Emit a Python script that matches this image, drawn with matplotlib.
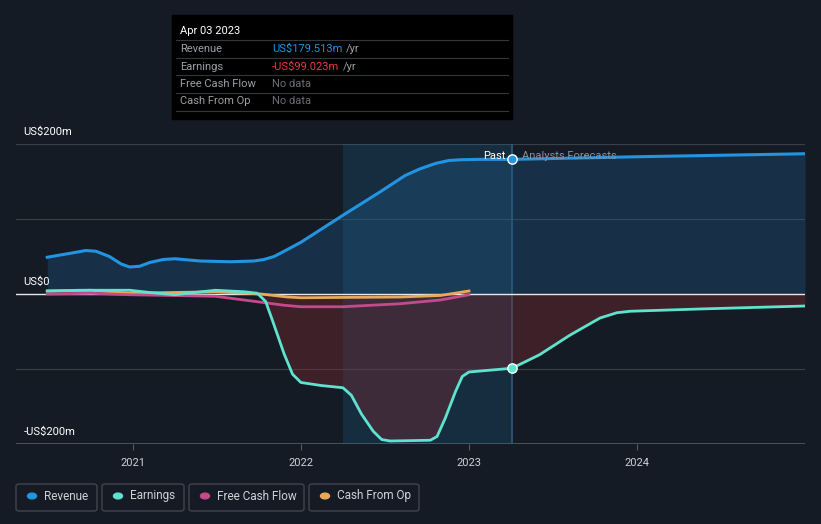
import matplotlib.pyplot as plt
from matplotlib.patches import Rectangle, FancyBboxPatch, Circle

plt.rcParams['font.family'] = ['Roboto', 'DejaVu Sans']

# x in fractional years, values in US$m
rev_x = [2020.49, 2020.62, 2020.72, 2020.78, 2020.86, 2020.93, 2020.98, 2021.04, 2021.10, 2021.18, 2021.25,
         2021.40, 2021.58, 2021.72, 2021.78, 2021.84, 2021.90, 2022.0, 2022.25, 2022.47, 2022.62, 2022.71,
         2022.80, 2022.88, 2022.95, 2023.05, 2023.256, 2024.0, 2025.0]
rev_y = [49, 54, 58, 57, 50, 40, 36, 37, 42, 46, 47, 44, 43, 44, 46, 50, 57, 69, 105, 136, 158, 167,
         174, 178, 179, 179.5, 179.5, 183, 187]

earn_x = [2020.49, 2020.68, 2020.98, 2021.10, 2021.25, 2021.49, 2021.66, 2021.74, 2021.79, 2021.83,
          2021.90, 2021.95, 2022.0, 2022.12, 2022.25, 2022.30, 2022.36, 2022.43, 2022.48, 2022.53,
          2022.77, 2022.81, 2022.86, 2022.92, 2022.96, 2023.0, 2023.256, 2023.42, 2023.60, 2023.78,
          2023.88, 2023.96, 2024.37, 2025.0]
earn_y = [4, 5, 5, 2, -1, 5, 3, 1, -10, -35, -80, -107, -118, -122, -125, -135, -160, -183, -194, -196,
          -195, -190, -165, -130, -110, -104, -99, -81, -55, -32, -25, -23, -20, -16]

fcf_x = [2020.49, 2020.75, 2020.98, 2021.49, 2021.73, 2021.90, 2022.0, 2022.25, 2022.59, 2022.83, 2023.0]
fcf_y = [0, 1, -1, -3, -10, -15, -17, -17, -13, -8, -1]

cfo_x = [2020.49, 2020.75, 2020.98, 2021.49, 2021.76, 2021.92, 2022.0, 2022.59, 2022.83, 2023.0]
cfo_y = [4, 5, 1, 3, 0, -4, -5, -4, -2, 4]

year_ticks = [2021, 2022, 2023, 2024]
now_x = 2023.256

BG = '#151b24'
fig = plt.figure(figsize=(8.21, 5.24), dpi=100, facecolor=BG)
ax = fig.add_axes([16 / 821, 80 / 524, 789 / 821, 300 / 524], facecolor=BG)
ax.set_xlim(2020.304, 2025.0)
ax.set_ylim(-200, 200)
for s in ax.spines.values():
    s.set_visible(False)
ax.set_yticks([])
ax.set_xticks(year_ticks)
ax.set_xticklabels([str(y) for y in year_ticks], color='#cfd3d8', fontsize=8)
ax.tick_params(axis='x', length=4, color='#555b63', pad=6)

# grid
for v in [200, 100, -100]:
    ax.axhline(v, color='#3a4048', lw=0.8, zorder=1)
ax.axhline(-200, color='#555b63', lw=1.2, zorder=1)
ax.axhline(0, color='#e8e8e8', lw=1, zorder=4)

# highlight band
ax.axvspan(2022.25, now_x, color='#1d6fa5', alpha=0.22, lw=0, zorder=1)
ax.axvline(now_x, color='#2b5d80', lw=1.2, zorder=2)

# fills
ax.fill_between(rev_x, rev_y, 0, color='#1f5a8a', alpha=0.35, lw=0, zorder=2)
ax.fill_between(earn_x, earn_y, 0, color='#8a2a30', alpha=0.35, lw=0, zorder=2)

ax.plot(cfo_x, cfo_y, color='#e8a95b', lw=2, zorder=5, solid_joinstyle='round')
ax.plot(fcf_x, fcf_y, color='#c44a8c', lw=2, zorder=5, solid_joinstyle='round')
ax.plot(earn_x, earn_y, color='#5ee3cf', lw=2, zorder=6, solid_joinstyle='round')
ax.plot(rev_x, rev_y, color='#2394e0', lw=2.2, zorder=6, solid_joinstyle='round')

ax.scatter([now_x], [179.5], s=45, color='#2394e0', edgecolor='white', lw=1, zorder=7)
ax.scatter([now_x], [-99], s=45, color='#5ee3cf', edgecolor='white', lw=1, zorder=7)

ax.text(now_x - 0.04, 184, 'Past', color='white', fontsize=8, ha='right', va='center', zorder=8)
ax.text(now_x + 0.06, 184, 'Analysts Forecasts', color='#8a9098', fontsize=8, ha='left', va='center', zorder=8)

# y labels
ax.text(2020.35, 216, 'US$200m', color='white', fontsize=8, ha='left', va='center', clip_on=False)
ax.text(2020.35, 16, 'US$0', color='white', fontsize=8, ha='left', va='center', clip_on=False)
ax.text(2020.35, -184, '-US$200m', color='white', fontsize=8, ha='left', va='center', clip_on=False)

# tooltip box
def fx(px):
    return px / 821

def fy(py):
    return 1 - py / 524

fig.patches.append(Rectangle((fx(172), fy(119)), fx(512) - fx(172), fy(15) - fy(119),
                             transform=fig.transFigure, color='black', zorder=10))
fig.text(fx(180), fy(31), 'Apr 03 2023', color='white', fontsize=8, va='center', zorder=11)
rows = [('Revenue', 'US$179.513m', '#2394e0'), ('Earnings', '-US$99.023m', '#e8383d'),
        ('Free Cash Flow', 'No data', '#6a6f75'), ('Cash From Op', 'No data', '#6a6f75')]
renderer = fig.canvas.get_renderer()
for i, (lab, val, col) in enumerate(rows):
    yy = 49 + i * 17.5
    fig.text(fx(180), fy(yy), lab, color='#9aa0a6', fontsize=8, va='center', zorder=11)
    t = fig.text(fx(272), fy(yy), val, color=col, fontsize=8, va='center', zorder=11)
    if val != 'No data':
        bb = t.get_window_extent(renderer)
        fig.text((bb.x1 + 4) / 821, fy(yy), '/yr', color='#9aa0a6', fontsize=8, va='center', zorder=11)
    fig.add_artist(plt.Line2D([fx(176), fx(508)], [fy(yy - 9), fy(yy - 9)], color='#33373c', lw=0.8,
                              transform=fig.transFigure, zorder=11))
fig.add_artist(plt.Line2D([fx(176), fx(508)], [fy(111), fy(111)], color='#33373c', lw=0.8,
                          transform=fig.transFigure, zorder=11))

# legend buttons
legend = [('Revenue', '#2394e0', 16, 97), ('Earnings', '#5ee3cf', 102, 184),
          ('Free Cash Flow', '#c44a8c', 189, 304), ('Cash From Op', '#e8a95b', 309, 419)]
for name, col, x0, x1 in legend:
    fig.patches.append(FancyBboxPatch((fx(x0), fy(511)), fx(x1) - fx(x0), fy(484) - fy(511),
                                      boxstyle='round,pad=0,rounding_size=0.004',
                                      transform=fig.transFigure, facecolor='none',
                                      edgecolor='#41464d', lw=1))
    fig.patches.append(Circle((fx(x0 + 16), fy(496)), 4.5 / 821, transform=fig.transFigure,
                              color=col))
    fig.text(fx(x0 + 28), fy(496), name, color='#cfd3d8', fontsize=8.5, va='center')

fig.savefig('out.png', dpi=100, facecolor=BG)
